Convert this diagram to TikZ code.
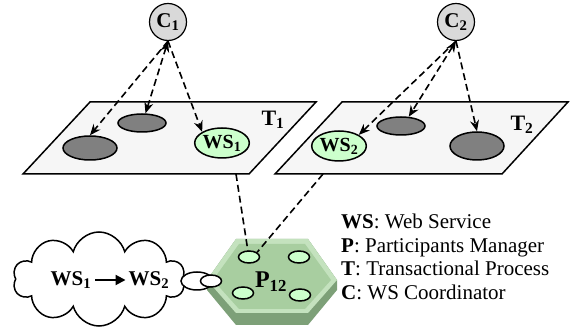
\documentclass[tikz,border=0pt]{standalone}
\usepackage{fontspec}
\setmainfont{Liberation Serif}
\usetikzlibrary{shapes.geometric,shapes.symbols,arrows.meta}
\definecolor{plategray}{RGB}{246,246,246}
\definecolor{coordgray}{RGB}{217,217,217}
\definecolor{wsgreen}{RGB}{204,255,204}
\definecolor{servgray}{RGB}{128,128,128}
\definecolor{hexface}{RGB}{168,206,160}
\definecolor{hexrim}{RGB}{196,226,190}
\definecolor{hexside}{RGB}{125,160,120}
\tikzset{
  coord/.style={circle,draw,fill=coordgray,line width=1.2pt,minimum size=37pt,inner sep=0pt,font=\bfseries\fontsize{21}{21}\selectfont},
  serv/.style={ellipse,draw,fill=servgray,line width=1.5pt,inner sep=0pt},
  wsnode/.style={ellipse,draw,fill=wsgreen,line width=1.5pt,inner sep=0pt,minimum width=54pt,minimum height=30pt,font=\bfseries\fontsize{20}{20}\selectfont},
  slot/.style={ellipse,draw,fill=wsgreen,line width=1.5pt,minimum width=21pt,minimum height=12pt,inner sep=0pt},
  plate/.style={draw,fill=plategray,line width=1.5pt},
  link/.style={dashed,dash pattern=on 7pt off 4pt,line width=1.6pt,-{Stealth[length=11pt,width=9pt]}},
  linkboth/.style={link,{Stealth[length=11pt,width=9pt]}-{Stealth[length=11pt,width=9pt]}},
  tie/.style={dashed,dash pattern=on 7pt off 4pt,line width=1.6pt},
  bubble/.style={ellipse,draw,fill=white,line width=1.5pt,inner sep=0pt},
}
\begin{document}
\begin{tikzpicture}[x=1pt,y=-1pt]
\useasboundingbox (0,0) rectangle (573,328);
%%%% Plates for the two transactional processes
    \draw[plate] (23,174) -- (249,174) -- (316,102) -- (90,102) -- cycle;
    \draw[plate] (275,174) -- (502,174) -- (568,102) -- (342,102) -- cycle;
    \node[font=\bfseries\fontsize{22}{22}\selectfont] (t1) at (273,120) {T\textsubscript{1}};
    \node[font=\bfseries\fontsize{22}{22}\selectfont] (t2) at (522,125) {T\textsubscript{2}};
%%%% Coordinators
    \node[coord] (c1) at (168,22) {C\textsubscript{1}};
    \node[coord] (c2) at (456,22) {C\textsubscript{2}};
%%%% Services on each plate
    \node[serv,minimum width=54pt,minimum height=24pt] (s11) at (90,148) {};
    \node[serv,minimum width=48pt,minimum height=18pt] (s12) at (142,123) {};
    \node[wsnode] (ws1) at (222,143) {WS\textsubscript{1}};
    \node[wsnode] (ws2) at (339,146) {WS\textsubscript{2}};
    \node[serv,minimum width=48pt,minimum height=18pt] (s22) at (401,126) {};
    \node[serv,minimum width=54pt,minimum height=28pt] (s23) at (477,146) {};
%%%% Coordination links
    \draw[link] (c1.south) -- (s11.north);
    \draw[linkboth] (c1.south) -- (s12.70);
    \draw[link] (c1.south) -- (ws1.north west);
    \draw[link] (c2.south) -- (ws2.north east);
    \draw[linkboth] (c2.south) -- (s22.50);
    \draw[link] (c2.south) -- (s23.north);
%%%% Participants manager
    \fill[hexside] (207,280) -- (236,239) -- (308,239) -- (337,280) -- (337,290) -- (308,325) -- (236,325) -- (207,290) -- cycle;
    \fill[hexrim] (207,280) -- (236,239) -- (308,239) -- (337,280) -- (308,313) -- (236,313) -- cycle;
    \fill[hexface] (213,280) -- (239,244) -- (305,244) -- (331,280) -- (305,309) -- (239,309) -- cycle;
    \node[slot] (pe1) at (249,257) {};
    \node[slot] (pe2) at (299,257) {};
    \node[slot] (pe3) at (243,293) {};
    \node[slot] (pe4) at (300,295) {};
    \node[font=\bfseries\fontsize{24}{24}\selectfont] (p12) at (271,282) {P\textsubscript{12}};
%%%% Links from the plates to the manager
    \coordinate (ws1out) at (236,174);
    \coordinate (ws2out) at (323,174);
    \draw[tie] (ws1out) -- (pe1.100);
    \draw[tie] (ws2out) -- (pe1.30);
%%%% Thought cloud
    \node[cloud,cloud puffs=10,aspect=1.9,draw,fill=white,line width=1.5pt,minimum width=172pt,minimum height=94pt,inner sep=0pt] (thought) at (99,279) {};
    \node[font=\bfseries\fontsize{21}{21}\selectfont,inner sep=1pt] (w1) at (71,280) {WS\textsubscript{1}};
    \node[font=\bfseries\fontsize{21}{21}\selectfont,inner sep=1pt] (w2) at (149,280) {WS\textsubscript{2}};
    \draw[-{Triangle[length=10pt,width=10pt]},line width=2pt,shorten <=3pt,shorten >=2pt] (w1) -- (w2);
    \node[bubble,minimum width=32pt,minimum height=18pt] (bub1) at (197,281) {};
    \node[bubble,minimum width=21pt,minimum height=12pt] (bub2) at (211,281) {};
%%%% Legend
    \node[anchor=west,align=left,inner sep=0pt,font=\fontsize{21}{23.5}\selectfont] (legend) at (341,257)
      {\textbf{WS}: Web Service\\ \textbf{P}: Participants Manager\\ \textbf{T}: Transactional Process\\ \textbf{C}: WS Coordinator};
\end{tikzpicture}
\end{document}
